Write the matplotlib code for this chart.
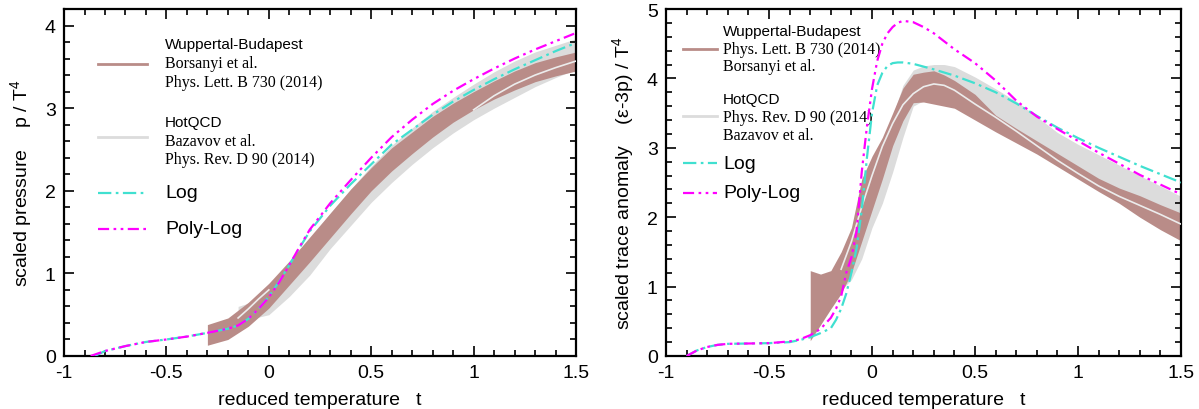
import numpy as np
import matplotlib
matplotlib.use("Agg")
import matplotlib.pyplot as plt
from matplotlib.ticker import MultipleLocator

plt.rcParams['font.family'] = ['Liberation Sans', 'DejaVu Sans']
plt.rcParams['mathtext.fontset'] = 'custom'
plt.rcParams['mathtext.rm'] = 'Liberation Sans'
plt.rcParams['mathtext.it'] = 'Liberation Sans:italic'
plt.rcParams['axes.unicode_minus'] = False

BROWN = '#b98c88'
GRAY = '#dcdcdc'
WHITE_LINE = '#ececec'
CYAN = '#40e0d0'
MAGENTA = '#ff00ff'
nan = np.nan

# ---------------- pressure panel data ----------------
p_log_t = [-0.85, -0.8, -0.7, -0.6, -0.5, -0.4, -0.3, -0.2, -0.15, -0.1, -0.05, 0.0, 0.05,
           0.1, 0.15, 0.2, 0.3, 0.4, 0.5, 0.6, 0.7, 0.8, 0.9, 1.0, 1.1, 1.2, 1.3, 1.4, 1.5]
p_log = [0.0, 0.06, 0.12, 0.17, 0.2, 0.235, 0.28, 0.33, 0.37, 0.45, 0.57, 0.72, 0.9,
         1.1, 1.31, 1.51, 1.82, 2.08, 2.32, 2.56, 2.74, 2.92, 3.08, 3.22, 3.35, 3.47, 3.58, 3.69, 3.79]

p_poly_t = [-0.87, -0.8, -0.7, -0.6, -0.5, -0.4, -0.3, -0.2, -0.15, -0.1, -0.05, 0.0, 0.05,
            0.1, 0.15, 0.2, 0.3, 0.4, 0.5, 0.6, 0.7, 0.8, 0.9, 1.0, 1.1, 1.2, 1.3, 1.4, 1.5]
p_poly = [0.0, 0.06, 0.12, 0.17, 0.2, 0.235, 0.28, 0.33, 0.37, 0.45, 0.57, 0.71, 0.89,
          1.1, 1.32, 1.53, 1.85, 2.13, 2.4, 2.65, 2.86, 3.05, 3.21, 3.35, 3.48, 3.6, 3.71, 3.81, 3.91]

p_wb_t = [-0.3, -0.2, -0.1, 0.0, 0.1, 0.2, 0.3, 0.4, 0.5, 0.6, 0.7, 0.8, 0.9, 1.0, 1.1, 1.2, 1.3, 1.4, 1.5]
p_wb_lo = [0.13, 0.2, 0.36, 0.58, 0.86, 1.14, 1.43, 1.72, 2.0, 2.24, 2.45, 2.65, 2.83, 2.98, 3.11, 3.22, 3.32, 3.39, 3.45]
p_wb_hi = [0.38, 0.46, 0.65, 0.88, 1.15, 1.44, 1.73, 2.02, 2.28, 2.52, 2.71, 2.9, 3.06, 3.2, 3.33, 3.45, 3.55, 3.62, 3.68]

p_hq_t = [-0.15, -0.1, -0.05, 0.0, 0.1, 0.2, 0.3, 0.4, 0.5, 0.6, 0.7, 0.8, 0.9, 1.0, 1.1, 1.2, 1.3, 1.4, 1.5]
p_hq_lo = [0.44, 0.45, 0.47, 0.5, 0.72, 0.98, 1.3, 1.58, 1.86, 2.1, 2.32, 2.52, 2.7, 2.86, 3.0, 3.13, 3.26, 3.37, 3.47]
p_hq_hi = [0.6, 0.64, 0.74, 0.85, 1.12, 1.42, 1.73, 2.02, 2.3, 2.55, 2.76, 2.96, 3.13, 3.29, 3.44, 3.57, 3.68, 3.76, 3.84]
# HotQCD central curve, only where it shows above the Wuppertal-Budapest band
p_hq_mid = [0.46, 0.57, 0.69, 0.8, nan, nan, nan, nan, nan, nan, nan, nan, nan, 2.98, 3.15, 3.29, 3.4, 3.49, 3.57]

# ---------------- trace anomaly panel data ----------------
e_log_t = [-0.9, -0.85, -0.8, -0.75, -0.7, -0.6, -0.5, -0.4, -0.35, -0.3, -0.25, -0.2, -0.175,
           -0.15, -0.125, -0.1, -0.075, -0.05, -0.025, 0.0, 0.025, 0.05, 0.075, 0.1, 0.125,
           0.15, 0.2, 0.3, 0.4, 0.5, 0.6, 0.7, 0.8, 0.9, 1.0, 1.1, 1.2, 1.3, 1.4, 1.5]
e_log = [0.0, 0.08, 0.13, 0.16, 0.175, 0.18, 0.185, 0.2, 0.23, 0.27, 0.33, 0.4, 0.52,
         0.68, 0.9, 1.2, 1.55, 2.1, 2.85, 3.5, 3.9, 4.08, 4.18, 4.22, 4.23,
         4.23, 4.21, 4.13, 4.04, 3.93, 3.8, 3.64, 3.46, 3.29, 3.14, 3.0, 2.87, 2.74, 2.62, 2.5]

e_poly_t = [-0.9, -0.85, -0.8, -0.75, -0.7, -0.6, -0.5, -0.4, -0.35, -0.3, -0.25, -0.2, -0.175,
            -0.15, -0.125, -0.1, -0.075, -0.05, -0.025, 0.0, 0.025, 0.05, 0.075, 0.1, 0.125,
            0.15, 0.2, 0.25, 0.3, 0.4, 0.5, 0.6, 0.7, 0.8, 0.9, 1.0, 1.1, 1.2, 1.3, 1.4, 1.5]
e_poly = [0.0, 0.08, 0.13, 0.16, 0.175, 0.18, 0.185, 0.21, 0.24, 0.3, 0.39, 0.55, 0.68,
          0.86, 1.2, 1.42, 1.8, 2.65, 3.3, 3.85, 4.25, 4.5, 4.65, 4.74, 4.8,
          4.83, 4.81, 4.74, 4.65, 4.42, 4.22, 3.97, 3.68, 3.45, 3.27, 3.1, 2.93, 2.77, 2.61, 2.47, 2.33]

e_wb_t = [-0.3, -0.25, -0.2, -0.15, -0.1, -0.05, 0.0, 0.05, 0.1, 0.15, 0.2, 0.25, 0.3, 0.35,
          0.4, 0.5, 0.6, 0.7, 0.8, 0.9, 1.0, 1.1, 1.2, 1.3, 1.4, 1.5]
e_wb_lo = [0.22, 0.45, 0.68, 0.9, 1.2, 1.65, 2.1, 2.55, 3.03, 3.39, 3.65, 3.66, 3.63, 3.6,
           3.57, 3.4, 3.23, 3.07, 2.91, 2.73, 2.55, 2.37, 2.2, 2.0, 1.82, 1.66]
e_wb_hi = [1.23, 1.18, 1.23, 1.5, 1.85, 2.55, 2.88, 3.15, 3.5, 3.86, 4.06, 4.09, 4.11, 4.05,
           3.97, 3.77, 3.47, 3.28, 3.1, 2.92, 2.74, 2.56, 2.42, 2.31, 2.18, 2.06]

e_hq_t = [-0.15, -0.1, -0.05, 0.0, 0.05, 0.1, 0.15, 0.2, 0.25, 0.3, 0.35, 0.4, 0.5, 0.6,
          0.7, 0.8, 0.9, 1.0, 1.1, 1.2, 1.3, 1.4, 1.5]
e_hq_lo = [0.95, 1.1, 1.4, 1.85, 2.2, 2.65, 3.15, 3.6, 3.68, 3.7, 3.66, 3.62, 3.45, 3.27,
           3.1, 2.93, 2.75, 2.57, 2.4, 2.24, 2.08, 1.93, 1.78]
e_hq_hi = [1.2, 1.6, 2.2, 2.7, 3.05, 3.45, 3.9, 4.12, 4.18, 4.2, 4.2, 4.17, 4.02, 3.85,
           3.67, 3.45, 3.22, 3.05, 2.9, 2.75, 2.6, 2.45, 2.3]
e_hq_mid = [1.25, 1.65, 2.15, 2.6, 3.02, 3.35, 3.62, 3.78, 3.88, 3.92, 3.9, 3.83, 3.63, 3.44,
            3.24, 3.03, 2.82, 2.63, 2.45, 2.3, 2.17, 2.04, 1.9]

LOG_DASH = (6, 2, 1.2, 2)
POLY_DASH = (5, 2, 1.2, 2, 1.2, 2)


def style_axes(ax, ymax):
    ax.set_xlim(-1, 1.5)
    ax.set_ylim(0, ymax)
    ax.xaxis.set_major_locator(MultipleLocator(0.5))
    ax.xaxis.set_minor_locator(MultipleLocator(0.1))
    ax.yaxis.set_major_locator(MultipleLocator(1))
    ax.yaxis.set_minor_locator(MultipleLocator(0.2))
    ax.tick_params(which='both', direction='in', top=True, right=True, width=1.2)
    ax.tick_params(which='major', length=7, labelsize=14, pad=6)
    ax.tick_params(which='minor', length=4)
    for s in ax.spines.values():
        s.set_linewidth(1.6)
    ax.xaxis.set_major_formatter(plt.FuncFormatter(lambda v, pos: '%g' % v))
    ax.yaxis.set_major_formatter(plt.FuncFormatter(lambda v, pos: '%g' % v))
    ax.set_xlabel('reduced temperature   t', fontsize=14, labelpad=7)


def legend_entry(ax, x0, x1, y, **kw):
    ax.plot([x0, x1], [y, y], transform=ax.transAxes, clip_on=False, **kw)


def legend_text(ax, x, y, s, serif=False, size=11):
    kw = dict(transform=ax.transAxes, va='center')
    if serif:
        ax.text(x, y, s, family='Liberation Serif', fontsize=11.5, **kw)
    else:
        ax.text(x, y, s, fontsize=size, **kw)


fig = plt.figure(figsize=(11.99, 4.10), dpi=100)
ax1 = fig.add_axes([0.0534, 0.1293, 0.427, 0.8463])
ax2 = fig.add_axes([0.5555, 0.1293, 0.4295, 0.8463])

# left: pressure
ax1.fill_between(p_hq_t, p_hq_lo, p_hq_hi, color=GRAY, lw=0, zorder=1)
ax1.fill_between(p_wb_t, p_wb_lo, p_wb_hi, color=BROWN, lw=0, zorder=2)
ax1.plot(p_hq_t, p_hq_mid, color=WHITE_LINE, lw=1.2, zorder=3)
ax1.plot(p_log_t, p_log, color=CYAN, lw=1.6, dashes=LOG_DASH, zorder=4)
ax1.plot(p_poly_t, p_poly, color=MAGENTA, lw=1.6, dashes=POLY_DASH, zorder=5)
style_axes(ax1, 4.2)
ax1.set_ylabel('scaled pressure    p / T$^4$', fontsize=14, labelpad=8)

legend_entry(ax1, 0.066, 0.162, 0.841, color=BROWN, lw=2)
legend_text(ax1, 0.197, 0.899, 'Wuppertal-Budapest')
legend_text(ax1, 0.197, 0.843, 'Borsanyi et al.', serif=True)
legend_text(ax1, 0.197, 0.790, 'Phys. Lett. B 730 (2014)', serif=True)
legend_entry(ax1, 0.066, 0.162, 0.631, color=GRAY, lw=2)
legend_text(ax1, 0.197, 0.674, 'HotQCD')
legend_text(ax1, 0.197, 0.620, 'Bazavov et al.', serif=True)
legend_text(ax1, 0.197, 0.568, 'Phys. Rev. D 90 (2014)', serif=True)
legend_entry(ax1, 0.066, 0.162, 0.47, color=CYAN, lw=1.6, dashes=LOG_DASH)
legend_text(ax1, 0.197, 0.47, 'Log', size=14)
legend_entry(ax1, 0.066, 0.162, 0.366, color=MAGENTA, lw=1.6, dashes=POLY_DASH)
legend_text(ax1, 0.197, 0.366, 'Poly-Log', size=14)

# right: trace anomaly
ax2.fill_between(e_hq_t, e_hq_lo, e_hq_hi, color=GRAY, lw=0, zorder=1)
ax2.fill_between(e_wb_t, e_wb_lo, e_wb_hi, color=BROWN, lw=0, zorder=2)
ax2.plot(e_hq_t, e_hq_mid, color=WHITE_LINE, lw=1.2, zorder=3)
ax2.plot(e_log_t, e_log, color=CYAN, lw=1.6, dashes=LOG_DASH, zorder=4)
ax2.plot(e_poly_t, e_poly, color=MAGENTA, lw=1.6, dashes=POLY_DASH, zorder=5)
style_axes(ax2, 5)
ax2.set_ylabel('scaled trace anomaly    (ε-3p) / T$^4$', fontsize=14, labelpad=8)

legend_entry(ax2, 0.033, 0.099, 0.886, color=BROWN, lw=2)
legend_text(ax2, 0.111, 0.937, 'Wuppertal-Budapest')
legend_text(ax2, 0.111, 0.886, 'Phys. Lett. B 730 (2014)', serif=True)
legend_text(ax2, 0.111, 0.836, 'Borsanyi et al.', serif=True)
legend_entry(ax2, 0.033, 0.099, 0.691, color=GRAY, lw=2)
legend_text(ax2, 0.111, 0.741, 'HotQCD')
legend_text(ax2, 0.111, 0.689, 'Phys. Rev. D 90 (2014)', serif=True)
legend_text(ax2, 0.111, 0.637, 'Bazavov et al.', serif=True)
legend_entry(ax2, 0.033, 0.099, 0.556, color=CYAN, lw=1.6, dashes=LOG_DASH)
legend_text(ax2, 0.111, 0.556, 'Log', size=14)
legend_entry(ax2, 0.033, 0.099, 0.470, color=MAGENTA, lw=1.6, dashes=POLY_DASH)
legend_text(ax2, 0.111, 0.470, 'Poly-Log', size=14)

fig.savefig('out.png', dpi=100)
